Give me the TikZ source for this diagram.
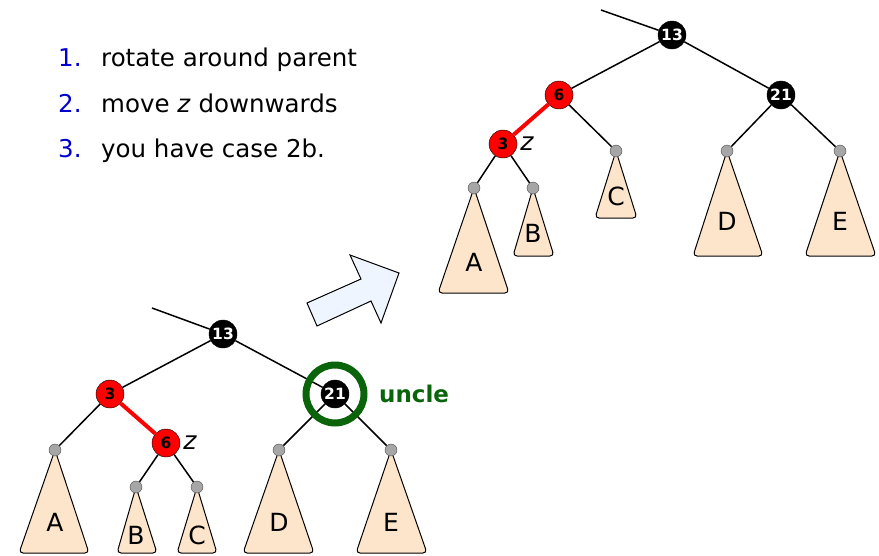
\documentclass[tikz,border=0pt]{standalone}
\usepackage{fontspec}
\setmainfont{DejaVu Sans}
\usetikzlibrary{calc}
\definecolor{subtreefill}{HTML}{FDE5CC}
\definecolor{arrowfill}{HTML}{EEF5FF}
\definecolor{uncle}{HTML}{0A640A}
\tikzset{
    rb red/.style = {
        circle, draw, fill = red, text = black,
        minimum size=28pt, inner sep=0pt,
        font=\bfseries\fontsize{15.5}{15.5}\selectfont,
        },
    rb black/.style = {
        circle, draw, fill = black, text = white,
        minimum size=28pt, inner sep=0pt,
        font=\bfseries\fontsize{15.5}{15.5}\selectfont,
        },
    leaf/.style = {
        circle, draw = black!70, fill = gray!70,
        minimum size=12pt, inner sep=0pt,
        },
    subtree/.style = {
        draw, line width=1pt, fill = subtreefill, rounded corners=4pt,
        },
    tree edge/.style = {
        draw, line width=1.5pt,
        },
    red edge/.style = {
        draw = red, line width=4pt,
        },
    label/.style = {
        font=\fontsize{25}{25}\selectfont,
        },
    zlabel/.style = {
        anchor=west, inner sep=3pt,
        font=\itshape\fontsize{25}{25}\selectfont,
        },
    item/.style = {
        anchor=base west, inner sep=0pt,
        font=\fontsize{24.5}{28}\selectfont,
        },
}

\begin{document}
\begin{tikzpicture}[x=1pt,y=-1pt]
            \useasboundingbox (0,0) rectangle (879,555);

            % steps
            \node[item, text=blue!80!black] (n1) at (58,66) {1.};
            \node[item] (s1) at (101,66) {rotate around parent};
            \node[item, text=blue!80!black] (n2) at (58,112) {2.};
            \node[item] (s2) at (101,112) {move \textit{z} downwards};
            \node[item, text=blue!80!black] (n3) at (58,157) {3.};
            \node[item] (s3) at (101,157) {you have case 2b.};

            % subtrees, before rotation
            \draw[subtree] (55,450) -- (89,553) -- (19,553) -- cycle;
            \draw[subtree] (136,487) -- (157,553) -- (117,553) -- cycle;
            \draw[subtree] (197,487) -- (217,553) -- (177,553) -- cycle;
            \draw[subtree] (279,450) -- (314,553) -- (243,553) -- cycle;
            \draw[subtree] (391,450) -- (427,553) -- (356,553) -- cycle;
            \node[label] (oA) at (55,522) {A};
            \node[label] (oB) at (136,535) {B};
            \node[label] (oC) at (197,535) {C};
            \node[label] (oD) at (279,522) {D};
            \node[label] (oE) at (391,522) {E};

            \coordinate (oin) at (152,308);
            \node[rb black] (o13) at (223,334) {13};
            \node[rb red] (o3) at (110,394) {3};
            \node[rb black] (o21) at (335,394) {21};
            \node[rb red] (o6) at (166,443) {6};
            \node[zlabel] (oz) at (o6.east) {z};
            \node[leaf] (olA) at (55,450) {};
            \node[leaf] (olB) at (136,487) {};
            \node[leaf] (olC) at (197,487) {};
            \node[leaf] (olD) at (279,450) {};
            \node[leaf] (olE) at (391,450) {};

            \path[tree edge] (oin) -- (o13);
            \path[tree edge] (o13) -- (o3);
            \path[tree edge] (o13) -- (o21);
            \path[red edge] (o3) -- (o6);
            \path[tree edge] (o3) -- (olA);
            \path[tree edge] (o6) -- (olB);
            \path[tree edge] (o6) -- (olC);
            \path[tree edge] (o21) -- (olD);
            \path[tree edge] (o21) -- (olE);

            \node[circle, draw=uncle, line width=7pt, minimum size=58pt] (ring) at (o21) {};
            \node[anchor=west, inner sep=0pt, text=uncle, font=\bfseries\fontsize{23}{23}\selectfont] (uncleL) at (379,394) {uncle};

            % big arrow
            \draw[fill=arrowfill, line width=1pt] (307,303) -- (317,326) -- (371,301) -- (381,323)
                -- (399,273) -- (350,255) -- (361,279) -- cycle;

            % subtrees, after rotation
            \draw[subtree] (474,188) -- (509,293) -- (438,293) -- cycle;
            \draw[subtree] (533,188) -- (554,256) -- (513,256) -- cycle;
            \draw[subtree] (616,151) -- (637,218) -- (595,218) -- cycle;
            \draw[subtree] (727,151) -- (763,256) -- (693,256) -- cycle;
            \draw[subtree] (840,151) -- (876,256) -- (805,256) -- cycle;
            \node[label] (rA) at (474,262) {A};
            \node[label] (rB) at (533,233) {B};
            \node[label] (rC) at (616,196) {C};
            \node[label] (rD) at (727,221) {D};
            \node[label] (rE) at (840,221) {E};

            \coordinate (rin) at (601,10);
            \node[rb black] (r13) at (672,35) {13};
            \node[rb red] (r6) at (559,95) {6};
            \node[rb black] (r21) at (781,95) {21};
            \node[rb red] (r3) at (503,144) {3};
            \node[zlabel] (rz) at (r3.east) {z};
            \node[leaf] (rlA) at (474,188) {};
            \node[leaf] (rlB) at (533,188) {};
            \node[leaf] (rlC) at (616,151) {};
            \node[leaf] (rlD) at (727,151) {};
            \node[leaf] (rlE) at (840,151) {};

            \path[tree edge] (rin) -- (r13);
            \path[tree edge] (r13) -- (r6);
            \path[tree edge] (r13) -- (r21);
            \path[red edge] (r6) -- (r3);
            \path[tree edge] (r6) -- (rlC);
            \path[tree edge] (r3) -- (rlA);
            \path[tree edge] (r3) -- (rlB);
            \path[tree edge] (r21) -- (rlD);
            \path[tree edge] (r21) -- (rlE);
        \end{tikzpicture}
\end{document}
